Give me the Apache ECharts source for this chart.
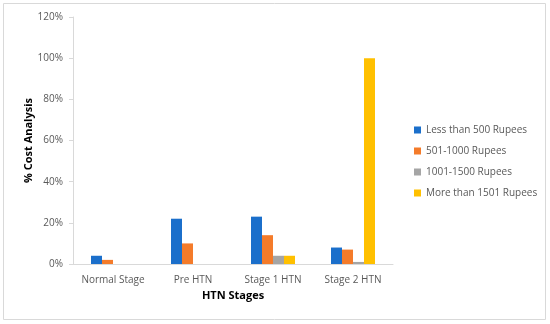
<!DOCTYPE html>
<html><head><meta charset="utf-8">
<script src="https://cdn.jsdelivr.net/npm/echarts@6/dist/echarts.min.js"></script>
<style>html,body{margin:0;padding:0;background:#fff}#c{width:550px;height:324px}</style>
</head><body><div id="c"></div>
<script>
const categories = ['Normal Stage', 'Pre HTN', 'Stage 1 HTN', 'Stage 2 HTN'];
const seriesNames = ['Less than 500 Rupees', '501-1000 Rupees', '1001-1500 Rupees', 'More than 1501 Rupees'];
const less500 = [4, 22, 23, 8];
const r501to1000 = [2, 10, 14, 7];
const r1001to1500 = [0, 0, 4, 1];
const more1501 = [0, 0, 4, 100];
const yTicks = [0, 20, 40, 60, 80, 100, 120];
const colors = ['#1B6FCB', '#F47B2A', '#A5A5A5', '#FFC000'];
const values = [less500, r501to1000, r1001to1500, more1501];
const font = 'Open Sans, Liberation Sans, sans-serif';
const chart = echarts.init(document.getElementById('c'));
chart.setOption({
  animation: false,
  color: colors,
  graphic: [{type:'rect', shape:{x:3.5,y:3.5,width:542,height:316}, style:{fill:'none', stroke:'#d9d9d9', lineWidth:1}, silent:true}],
  grid: {left: 73, right: 157, top: 17, bottom: 60},
  legend: {
    orient: 'vertical', left: 409, top: 120, itemWidth: 7, itemHeight: 7, itemGap: 11,
    icon: 'rect', textStyle: {color: '#595959', fontSize: 10, fontFamily: font},
    data: seriesNames
  },
  xAxis: {
    type: 'category', data: categories,
    name: 'HTN Stages', nameLocation: 'middle', nameGap: 25,
    nameTextStyle: {fontWeight: 'bold', fontSize: 11, color: '#000', fontFamily: font},
    axisLine: {lineStyle: {color: '#d9d9d9'}}, axisTick: {show: false},
    axisLabel: {color: '#595959', fontSize: 10, fontFamily: font, margin: 11, interval: 0}
  },
  yAxis: {
    type: 'value', min: 0, max: 120, interval: 20,
    name: '% Cost Analysis', nameLocation: 'middle', nameGap: 39, nameMoveOverlap: false,
    nameTextStyle: {fontWeight: 'bold', fontSize: 11, color: '#000', fontFamily: font},
    axisLine: {show: true, lineStyle: {color: '#d9d9d9'}},
    axisTick: {show: true, length: 4, lineStyle: {color: '#d9d9d9'}},
    splitLine: {show: false},
    axisLabel: {color: '#595959', fontSize: 10, fontFamily: font, margin: 10,
      formatter: v => yTicks.includes(v) ? v + '%' : ''}
  },
  series: seriesNames.map((n, i) => ({
    name: n, type: 'bar', data: values[i], barGap: '0%', barCategoryGap: '45%'
  }))
});
</script></body></html>
